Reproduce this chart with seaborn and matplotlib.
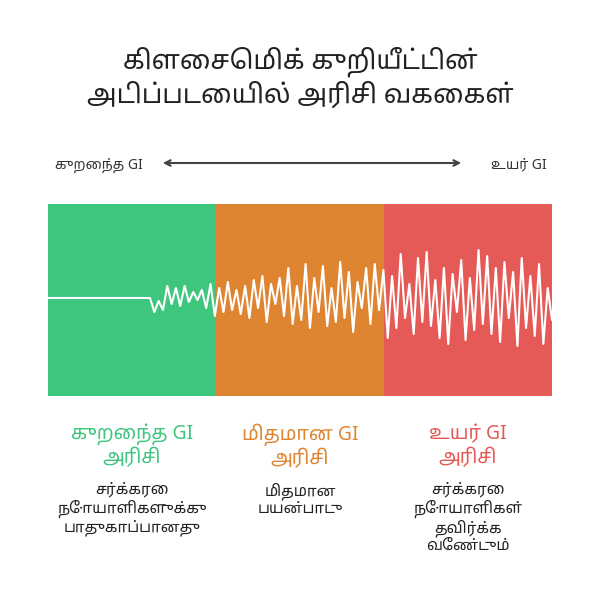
import matplotlib
matplotlib.use("Agg")
import matplotlib.pyplot as plt
import seaborn as sns
from matplotlib import font_manager

sns.set_style("white")
names = {f.name for f in font_manager.fontManager.ttflist}
fams = [n for n in ["Noto Sans Tamil", "Lohit Tamil", "Noto Sans", "DejaVu Sans"] if n in names]
plt.rcParams["font.family"] = fams

title_lines = ["கிளைசெமிக் குறியீட்டின்", "அடிப்படையில் அரிசி வகைகள்"]
scale_left = "குறைந்த GI"
scale_right = "உயர் GI"
cat_names = ["குறைந்த GI\nஅரிசி", "மிதமான GI\nஅரிசி", "உயர் GI\nஅரிசி"]
cat_notes = ["சர்க்கரை\nநோயாளிகளுக்கு\nபாதுகாப்பானது", "மிதமான\nபயன்பாடு",
             "சர்க்கரை\nநோயாளிகள்\nதவிர்க்க\nவேண்டும்"]
cat_colors = ["#3ec67f", "#df8430", "#e55a56"]
text_colors = ["#3ec67f", "#df8430", "#e55a56"]

# waveform: flat until x=150 px, then zigzag (offsets in px from the baseline)
flat_x = [48, 150]
wave_offsets = [0, 14, 3, 12, -12, 6, -10, 8, -12, 4, -6, 2, -8, 10, -14, 18, -10, 14, -16, 12,
                -8, 16, -12, 20, -18, 10, -22, 24, -14, 6, -20, 18, -30, 26, -12, 22, -34, 30,
                -20, 14, -32, 28, -10, 24, -36, 20, -26, 34, -16, 10, -30, 26, -34, 12,
                -28, 40, -22, 30, -44, 20, -14, 36, -40, 24, -46, 28, -18, 40, -30, 46, -24,
                14, -38, 42, -20, 32, -48, 26, -42, 36, -30, 44, -36, 20, -26, 48, -40, 30,
                -22, 38, -34, 46, -10, 22]
baseline = 298

fig = plt.figure(figsize=(6, 6), dpi=100)
ax = fig.add_axes([0, 0, 1, 1])
ax.set_xlim(0, 600)
ax.set_ylim(600, 0)
ax.axis("off")

ax.text(300, 62, title_lines[0], ha="center", va="center", fontsize=19, fontweight="bold", color="#222")
ax.text(300, 96, title_lines[1], ha="center", va="center", fontsize=19, fontweight="bold", color="#222")

ax.text(55, 165, scale_left, ha="left", va="center", fontsize=10, color="#333")
ax.text(547, 165, scale_right, ha="right", va="center", fontsize=10, color="#333")
ax.annotate("", xy=(160, 163), xytext=(464, 163),
            arrowprops=dict(arrowstyle="<->", color="#444", lw=1.5))

for i, c in enumerate(cat_colors):
    ax.add_patch(plt.Rectangle((48 + 168 * i, 204), 168, 192, color=c, lw=0))

step = (552 - 150) / (len(wave_offsets) - 1)
xs = flat_x + [150 + step * i for i in range(len(wave_offsets))]
ys = [baseline, baseline] + [baseline + o for o in wave_offsets]
ax.plot(xs, ys, color="white", lw=1.5)

for i in range(3):
    cx = 132 + 168 * i
    ax.text(cx, 446, cat_names[i], ha="center", va="center", fontsize=14, fontweight="bold",
            color=text_colors[i], linespacing=1.2)
    ax.text(cx, 482, cat_notes[i], ha="center", va="top", fontsize=11, color="#222",
            linespacing=1.15)

fig.savefig("out.png", dpi=100, facecolor="white")
